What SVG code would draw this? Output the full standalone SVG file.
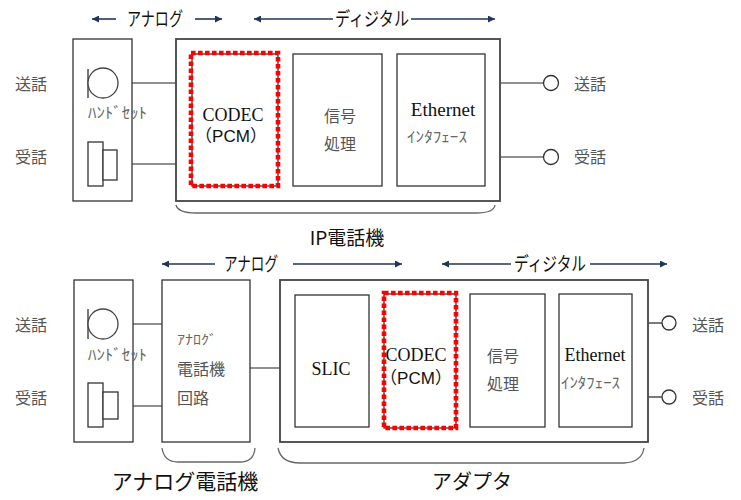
<svg xmlns="http://www.w3.org/2000/svg" width="741" height="500" viewBox="0 0 741 500">
<defs>
<marker id="ah" viewBox="0 0 10 10" refX="10" refY="5" markerWidth="9" markerHeight="7" markerUnits="userSpaceOnUse" orient="auto">
<path d="M0,0 L10,5 L0,10 z" fill="#1f3656"/>
</marker>
<style>
.box{fill:#fff;stroke:#333;stroke-width:1.3}
.outer{fill:#fff;stroke:#444;stroke-width:1.8}
.ln{stroke:#222;stroke-width:1.2;fill:none}
.arr{stroke:#1f3656;stroke-width:1.6;fill:none;marker-end:url(#ah)}
.br{stroke:#666;stroke-width:1.3;fill:none}
.red{fill:none;stroke:#ff0000;stroke-width:4.6;stroke-dasharray:4.6 2.4}
.lab{font-family:"Noto Sans CJK JP",sans-serif;font-size:16px;fill:#555}
.ser{font-family:"Liberation Serif","Noto Sans CJK JP",serif;fill:#111}
.pcm{font-family:"Liberation Sans","Noto Sans CJK JP",sans-serif;font-size:17px;fill:#111}
.small{font-family:"Noto Sans CJK JP",sans-serif;fill:#666}
.hdr{font-family:"Noto Sans CJK JP",sans-serif;font-size:19px;fill:#111}
.cap{font-family:"Noto Sans CJK JP",sans-serif;fill:#111}
</style>
</defs>
<rect width="741" height="500" fill="#fff"/>

<!-- connectors -->
<g id="connectors">
  <line class="arr" x1="116" y1="19" x2="92" y2="19"/>
  <line class="arr" x1="195" y1="19" x2="222" y2="19"/>
  <line class="arr" x1="333" y1="19" x2="254" y2="19"/>
  <line class="arr" x1="411" y1="19" x2="495" y2="19"/>
  <line class="arr" x1="215" y1="264" x2="162" y2="264"/>
  <line class="arr" x1="293" y1="264" x2="402" y2="264"/>
  <line class="arr" x1="511" y1="264" x2="442" y2="264"/>
  <line class="arr" x1="590" y1="264" x2="667" y2="264"/>
  <line class="ln" x1="118" y1="83" x2="191" y2="83"/>
  <line class="ln" x1="117" y1="164" x2="191" y2="164"/>
  <line class="ln" x1="278" y1="128" x2="293" y2="128"/>
  <line class="ln" x1="382" y1="128" x2="397" y2="128"/>
  <line class="ln" x1="485" y1="83" x2="544" y2="83"/>
  <line class="ln" x1="485" y1="157" x2="544" y2="157"/>
  <line class="ln" x1="118" y1="324" x2="162" y2="324"/>
  <line class="ln" x1="118" y1="406" x2="162" y2="406"/>
  <line class="ln" x1="250" y1="368" x2="295" y2="368"/>
  <line class="ln" x1="369" y1="323" x2="384" y2="323"/>
  <line class="ln" x1="369" y1="397" x2="384" y2="397"/>
  <line class="ln" x1="456" y1="368" x2="470" y2="368"/>
  <line class="ln" x1="545" y1="368" x2="559" y2="368"/>
  <line class="ln" x1="632" y1="323" x2="662" y2="323"/>
  <line class="ln" x1="632" y1="397" x2="662" y2="397"/>
</g>

<g id="hdr-top">
  <text class="hdr" x="155" y="26" text-anchor="middle" textLength="56" lengthAdjust="spacingAndGlyphs">アナログ</text>
  <text class="hdr" x="372" y="26" text-anchor="middle" textLength="74" lengthAdjust="spacingAndGlyphs">ディジタル</text>
</g>
<g id="hdr-bottom">
  <text class="hdr" x="251" y="271" text-anchor="middle" textLength="54" lengthAdjust="spacingAndGlyphs">アナログ</text>
  <text class="hdr" x="550" y="271" text-anchor="middle" textLength="72" lengthAdjust="spacingAndGlyphs">ディジタル</text>
</g>

<!-- ===== Top: IP phone ===== -->
<g id="handset-top">
  <rect class="box" x="73" y="39" width="59" height="162"/>
  <line class="ln" x1="88" y1="69" x2="88" y2="98"/>
  <circle cx="103" cy="83" r="15" fill="#fff" stroke="#444" stroke-width="1.3"/>
  <text class="small" x="88" y="118" font-size="15" textLength="59" lengthAdjust="spacingAndGlyphs">ﾊﾝﾄﾞｾｯﾄ</text>
  <rect class="box" x="88" y="142" width="15" height="44"/>
  <rect class="box" x="103" y="150" width="14" height="30"/>
</g>
<g id="labels-top-left">
  <text class="lab" x="15" y="90" font-size="17">送話</text>
  <text class="lab" x="15" y="163" font-size="17">受話</text>
</g>
<g id="ipphone">
  <rect class="outer" x="176" y="39" width="324" height="162"/>
</g>
<g id="codec-top">
  <rect class="box" x="192" y="54" width="86" height="132"/>
  <rect class="red" x="191" y="53" width="87" height="133"/>
  <text class="ser" x="233" y="121" font-size="18" text-anchor="middle">CODEC</text>
  <text class="pcm" x="231" y="142" text-anchor="middle">（PCM）</text>
</g>
<g id="dsp-top">
  <rect class="box" x="293" y="54" width="89" height="132"/>
  <text class="lab" x="340" y="122" font-size="17" text-anchor="middle">信号</text>
  <text class="lab" x="340" y="150" font-size="17" text-anchor="middle">処理</text>
</g>
<g id="eth-top">
  <rect class="box" x="397" y="54" width="88" height="132"/>
  <text class="ser" x="443" y="116" font-size="19" text-anchor="middle">Ethernet</text>
  <text class="small" x="407" y="142" font-size="15" fill="#555" textLength="60" lengthAdjust="spacingAndGlyphs">ｲﾝﾀﾌｪｰｽ</text>
</g>
<g id="ports-top">
  <circle cx="551" cy="83" r="7.5" fill="#fff" stroke="#333" stroke-width="1.3"/>
  <circle cx="551" cy="157" r="7.5" fill="#fff" stroke="#333" stroke-width="1.3"/>
  <text class="lab" x="574" y="90" font-size="17">送話</text>
  <text class="lab" x="574" y="163" font-size="17">受話</text>
</g>
<g id="brace-top">
  <path class="br" d="M176,205 Q178,213 196,213 L476,213 Q494,213 495,205"/>
  <text class="cap" x="347" y="245" font-size="19" text-anchor="middle">IP電話機</text>
</g>

<!-- ===== Bottom: analog phone + adapter ===== -->
<g id="handset-bottom">
  <rect class="box" x="74" y="280" width="59" height="162"/>
  <line class="ln" x1="88" y1="309" x2="88" y2="339"/>
  <circle cx="103" cy="324" r="15" fill="#fff" stroke="#444" stroke-width="1.3"/>
  <text class="small" x="88" y="360" font-size="15" textLength="59" lengthAdjust="spacingAndGlyphs">ﾊﾝﾄﾞｾｯﾄ</text>
  <rect class="box" x="88" y="383" width="15" height="44"/>
  <rect class="box" x="103" y="392" width="15" height="27"/>
</g>
<g id="labels-bottom-left">
  <text class="lab" x="15" y="331" font-size="17">送話</text>
  <text class="lab" x="15" y="404" font-size="17">受話</text>
</g>
<g id="analog-circuit">
  <rect class="box" x="162" y="280" width="88" height="162"/>
  <text class="small" x="177" y="344" font-size="13" fill="#333" textLength="40" lengthAdjust="spacingAndGlyphs">ｱﾅﾛｸﾞ</text>
  <text class="lab" x="177" y="375" font-size="17" fill="#444">電話機</text>
  <text class="lab" x="177" y="404" font-size="17" fill="#444">回路</text>
</g>
<g id="adapter">
  <rect class="outer" x="280" y="280" width="368" height="162"/>
</g>
<g id="slic">
  <rect class="box" x="295" y="295" width="74" height="132"/>
  <text class="ser" x="331" y="375" font-size="18" text-anchor="middle">SLIC</text>
</g>
<g id="codec-bottom">
  <rect class="box" x="384" y="294" width="72" height="134"/>
  <rect class="red" x="384" y="293" width="72" height="135"/>
  <text class="ser" x="416" y="361" font-size="18" text-anchor="middle">CODEC</text>
  <text class="pcm" x="416" y="384" text-anchor="middle">（PCM）</text>
</g>
<g id="dsp-bottom">
  <rect class="box" x="470" y="294" width="75" height="133"/>
  <text class="lab" x="503" y="362" font-size="17" text-anchor="middle">信号</text>
  <text class="lab" x="503" y="390" font-size="17" text-anchor="middle">処理</text>
</g>
<g id="eth-bottom">
  <rect class="box" x="559" y="294" width="73" height="133"/>
  <text class="ser" x="595" y="361" font-size="18" text-anchor="middle">Ethernet</text>
  <text class="small" x="561" y="388" font-size="15" fill="#555" textLength="59" lengthAdjust="spacingAndGlyphs">ｲﾝﾀﾌｪｰｽ</text>
</g>
<g id="ports-bottom">
  <circle cx="669" cy="323" r="7" fill="#fff" stroke="#333" stroke-width="1.3"/>
  <circle cx="669" cy="397" r="7" fill="#fff" stroke="#333" stroke-width="1.3"/>
  <text class="lab" x="692" y="331" font-size="17">送話</text>
  <text class="lab" x="692" y="404" font-size="17">受話</text>
</g>
<g id="brace-analog">
  <path class="br" d="M162,448 Q164,462 178,462 L240,462 Q254,462 255,448"/>
  <text class="cap" x="185" y="489" font-size="21" text-anchor="middle">アナログ電話機</text>
</g>
<g id="brace-adapter">
  <path class="br" d="M278,448 Q281,463 300,463 L624,463 Q642,462 644,448"/>
  <text class="cap" x="472" y="489" font-size="20" text-anchor="middle">アダプタ</text>
</g>
</svg>
